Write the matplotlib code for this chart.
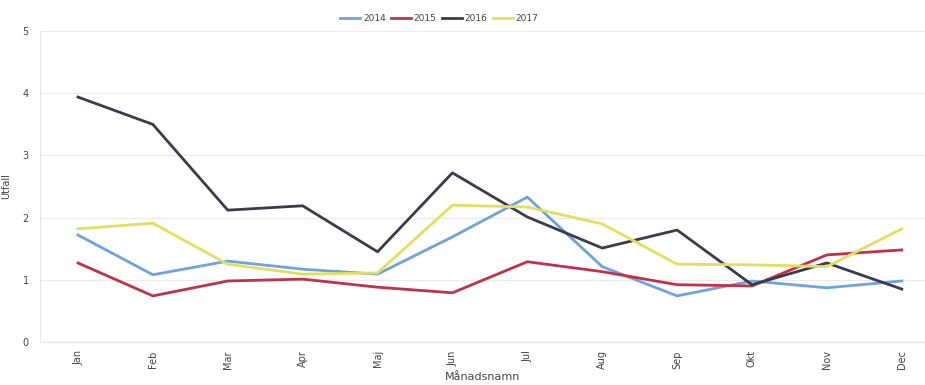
import matplotlib.pyplot as plt

months = ['Jan', 'Feb', 'Mar', 'Apr', 'Maj', 'Jun', 'Jul', 'Aug', 'Sep', 'Okt', 'Nov', 'Dec']
years = ['2014', '2015', '2016', '2017']

utfall_2014 = [1.72, 1.08, 1.30, 1.17, 1.09, 1.69, 2.33, 1.21, 0.74, 0.98, 0.87, 0.98]
utfall_2015 = [1.27, 0.74, 0.98, 1.01, 0.88, 0.79, 1.29, 1.13, 0.92, 0.90, 1.40, 1.48]
utfall_2016 = [3.94, 3.50, 2.12, 2.19, 1.45, 2.72, 2.01, 1.51, 1.80, 0.92, 1.27, 0.85]
utfall_2017 = [1.82, 1.91, 1.25, 1.09, 1.11, 2.20, 2.17, 1.90, 1.25, 1.24, 1.21, 1.82]

colors = ['#6fa3dc', '#c0324a', '#3a3b4b', '#e3df5e']
series = [utfall_2014, utfall_2015, utfall_2016, utfall_2017]

fig = plt.figure(figsize=(9.25, 3.85), dpi=100)
ax = fig.add_axes([0.043, 0.112, 0.957, 0.807])

x = range(len(months))
for year, vals, c in zip(years, series, colors):
    ax.plot(x, vals, color=c, linewidth=2, label=year)

ax.set_xlim(-0.51, 11.31)
ax.set_ylim(0, 5)
ax.set_yticks([0, 1, 2, 3, 4, 5])
ax.set_xticks(list(x))
ax.set_xticklabels(months, rotation=90, fontsize=7, color='#444444')
ax.tick_params(axis='y', labelsize=7, labelcolor='#444444', length=0, pad=8)
ax.tick_params(axis='x', length=0, pad=6)

ax.grid(axis='y', color='#ececec', linewidth=1)
ax.set_axisbelow(True)
for side in ['top', 'right']:
    ax.spines[side].set_visible(False)
ax.spines['left'].set_color('#e6e6e6')
ax.spines['bottom'].set_color('#e6e6e6')

ax.set_xlabel('Månadsnamn', fontsize=8, color='#444444', labelpad=2)
ax.set_ylabel('Utfall', fontsize=7, color='#444444')
ax.yaxis.set_label_coords(-0.032, 0.5)

fig.legend(loc='upper center', bbox_to_anchor=(0.475, 0.985), ncol=4, frameon=False,
           fontsize=6.5, handlelength=2.2, handletextpad=0.3, columnspacing=0.6,
           labelcolor='#444444')

fig.savefig('out.png', dpi=100)
